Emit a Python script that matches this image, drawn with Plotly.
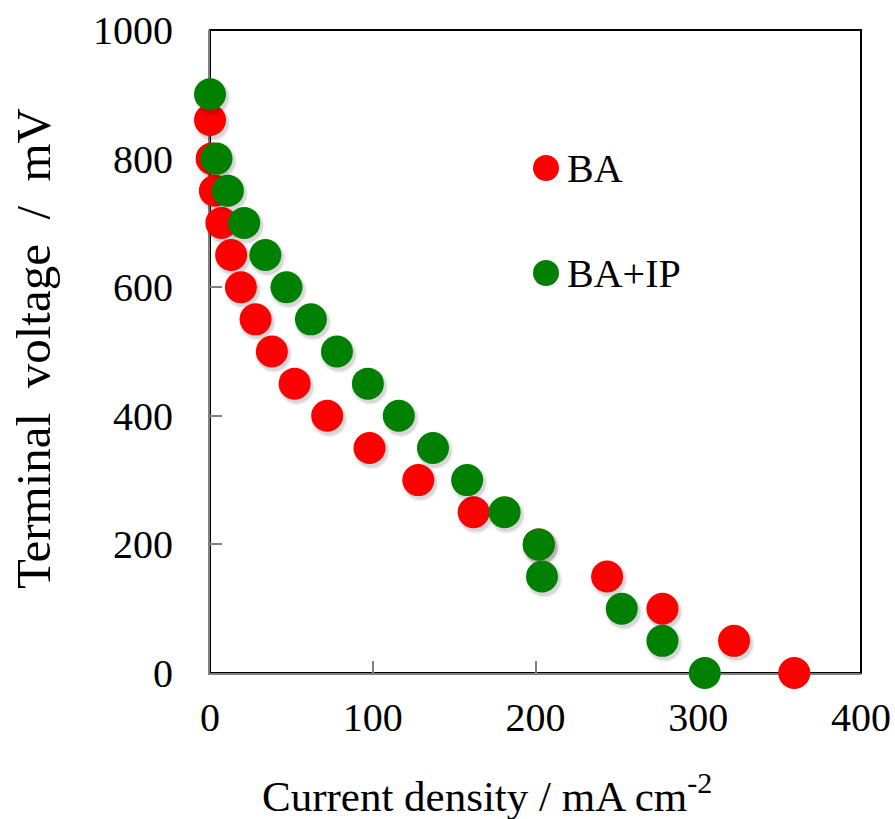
import plotly.graph_objects as go

# Polarization data: terminal voltage vs current density
ba_current = [0, 1, 3, 7, 13, 19, 28, 38, 52, 72, 98, 128, 162, 202, 244, 278, 322, 359]
ba_voltage = [860, 800, 750, 700, 650, 600, 550, 500, 450, 400, 350, 300, 250, 200, 150, 100, 50, 0]

baip_current = [0, 4, 11, 21, 34, 47, 62, 78, 97, 116, 137, 158, 181, 202, 204, 253, 278, 304]
baip_voltage = [900, 800, 750, 700, 650, 600, 550, 500, 450, 400, 350, 300, 250, 200, 150, 100, 50, 0]

series_names = ["BA", "BA+IP"]
series_colors = ["#ff0000", "#008000"]

x_ticks = [0, 100, 200, 300, 400]
y_ticks = [0, 200, 400, 600, 800, 1000]

FONT = "Liberation Serif, Times New Roman, serif"
W, H = 895, 819
L, R, T, B = 210, 34, 30, 146
plot_w = W - L - R
plot_h = H - T - B
x_range = [0, 400]
y_range = [0, 1000]

# soft drop shadow offset, expressed in data units from pixel offsets
dx = 2.0 * (x_range[1] - x_range[0]) / plot_w
dy = -3.0 * (y_range[1] - y_range[0]) / plot_h

fig = go.Figure()

for xs, ys, name, color in [
    (ba_current, ba_voltage, series_names[0], series_colors[0]),
    (baip_current, baip_voltage, series_names[1], series_colors[1]),
]:
    for size, alpha in [(38, 0.03), (35, 0.05), (33, 0.08)]:
        fig.add_trace(go.Scatter(
            x=[v + dx for v in xs], y=[v + dy for v in ys], mode="markers",
            marker=dict(size=size, color=f"rgba(0,0,0,{alpha})", line=dict(width=0)),
            hoverinfo="skip", showlegend=False, cliponaxis=False,
        ))
    fig.add_trace(go.Scatter(
        x=xs, y=ys, mode="markers", name=name,
        marker=dict(size=32, color=color, line=dict(width=0)),
        showlegend=False, cliponaxis=False,
    ))

axis_common = dict(
    showline=True, linecolor="#808080", linewidth=2,
    ticks="inside", ticklen=12, tickwidth=2, tickcolor="#808080",
    showgrid=False, zeroline=False, layer="below traces", automargin=False,
    tickfont=dict(family=FONT, size=40, color="black"),
)

fig.update_xaxes(range=x_range, tickvals=x_ticks, ticktext=[str(v) for v in x_ticks],
                 ticklabelstandoff=8, **axis_common)
fig.update_yaxes(range=y_range, tickvals=y_ticks, ticktext=[str(v) for v in y_ticks],
                 ticklabelstandoff=27, **axis_common)

# plot frame (top and right edges)
fig.add_shape(type="rect", xref="paper", yref="paper", x0=0, x1=1, y0=0, y1=1,
              line=dict(color="black", width=2), layer="below")

# legend drawn inside the plot area
legend_x = (546 - L) / plot_w
legend_ys = [(H - B - 168) / plot_h, (H - B - 273) / plot_h]
for name, color, ly in zip(series_names, series_colors, legend_ys):
    fig.add_shape(type="circle", xref="paper", yref="paper",
                  xsizemode="pixel", ysizemode="pixel",
                  xanchor=legend_x, yanchor=ly, x0=-13, x1=13, y0=-13, y1=13,
                  fillcolor=color, line=dict(width=0))
    fig.add_annotation(text=name, xref="paper", yref="paper",
                       x=(565 - L) / plot_w, y=ly, xanchor="left", yanchor="middle",
                       showarrow=False, font=dict(family=FONT, size=40, color="black"))

# axis titles
fig.add_annotation(text="Current density / mA cm<sup>-2</sup>", xref="paper", yref="paper",
                   x=(487 - L) / plot_w, y=(H - B - 793) / plot_h,
                   xanchor="center", yanchor="middle", showarrow=False,
                   font=dict(family=FONT, size=43, color="black"))
fig.add_annotation(text="Terminal\u2002voltage\u2002/\u2002mV", xref="paper", yref="paper",
                   x=(33 - L) / plot_w, y=(H - B - 349) / plot_h, textangle=-90,
                   xanchor="center", yanchor="middle", showarrow=False,
                   font=dict(family=FONT, size=49, color="black"))

fig.update_layout(
    width=W, height=H,
    margin=dict(l=L, r=R, t=T, b=B, pad=0),
    paper_bgcolor="white", plot_bgcolor="white",
    showlegend=False,
)

fig.write_html("out.html")
